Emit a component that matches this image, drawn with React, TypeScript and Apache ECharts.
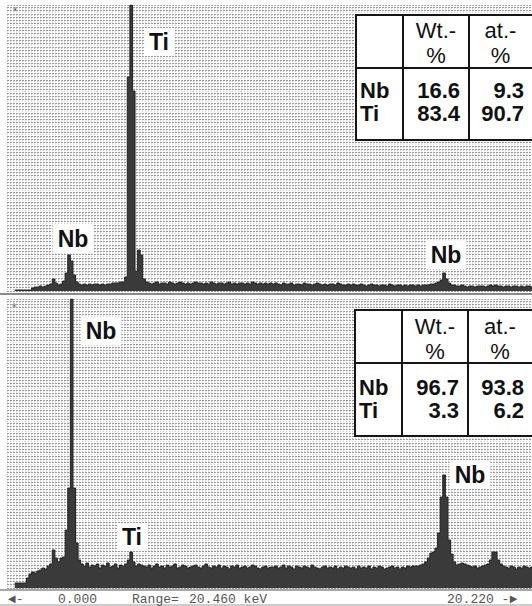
import React, { useEffect, useRef } from "react";
import * as echarts from "echarts";

// EDS spectra, 0.1 keV per channel, counts expressed in plot units
const CHANNEL_KEV = 0.1;

// Panel 1: Ti-rich phase
const SPECTRUM_TI_RICH = [
  1, 1, 1, 1, 1, 1, 1,
  3, 4, 4, 5, 4, 5, 6, 7,
  12, 8, 6, 7, 10, 18, 36, 30, 16, 9,
  7, 6, 7, 6, 7, 6, 7, 7, 6, 7, 6, 7, 7, 8, 8,
  8, 9, 9, 14,
  214, 286, 200, 20, 41, 36, 12, 9,
  8, 7, 8, 9, 7, 8, 8, 7, 9, 8,
  7, 8, 9, 8, 7, 8, 7, 8, 9, 8,
  8, 7, 8, 7, 9, 8, 7, 8, 8, 7,
  8, 9, 7, 8, 7, 8, 8, 7, 8, 7,
  9, 8, 7, 8, 7, 8, 7, 8,
  7, 8, 7, 6, 8, 7, 7, 8, 6, 7,
  7, 6, 8, 7, 7, 6, 7, 8, 7, 6,
  7, 6, 7, 7, 6, 8, 7, 6, 6, 7,
  6, 7, 6, 6, 7, 6, 5, 6, 7, 6,
  6, 5, 6, 6, 5, 7, 6, 5, 6, 6,
  5, 6, 5, 6, 6, 5, 6, 5, 6, 6,
  6, 7, 7, 8, 9, 11, 18, 12, 8, 6, 6,
  5, 5, 6, 5, 4, 5, 5, 4, 5, 5,
  5, 4, 5, 6, 5, 6, 5, 5, 4, 5,
  5, 4, 5, 5, 4, 5, 4, 5, 5, 4,
];

// Panel 2: Nb-rich phase
const SPECTRUM_NB_RICH = [
  5, 5, 5, 5, 5,
  10, 14, 16, 15, 17, 18, 20, 19, 22, 24,
  38, 30, 26, 30, 31, 58, 100, 289, 100, 45, 28,
  24, 22, 25, 21, 23, 22, 24, 20, 23, 22, 25, 21, 22, 24, 20, 23, 22, 24,
  28, 36, 26, 22, 24, 23,
  22, 21, 23, 20, 22, 24, 21, 22, 20, 23,
  21, 22, 24, 20, 21, 23, 22, 20, 21, 22,
  23, 21, 20, 22, 24, 21, 20, 22, 21, 23,
  20, 22, 21, 19, 22, 21, 23, 20, 21, 22,
  20, 21, 23, 22, 20, 19, 21, 22, 20, 21,
  21, 22, 20, 21, 23, 20, 22, 21, 19, 22,
  21, 20, 22, 21, 20, 23, 21, 20, 19, 21,
  22, 20, 21, 20, 22, 19, 21, 20, 22, 21,
  20, 21, 19, 22, 20, 21, 20, 22, 19, 21,
  20, 22, 21, 19, 20, 21, 22, 20, 21, 19,
  21, 20, 22, 21, 22, 22, 22, 23, 24, 26,
  30, 35, 36, 40, 55, 91, 113, 91, 48, 34, 26,
  23, 24, 25, 24, 23, 22, 21, 22, 20, 21, 22, 23, 24,
  28, 36, 36, 28, 24,
  22, 21, 20, 22, 21, 19, 21, 20, 22, 21, 20, 21,
];

// Quantification tables
const TABLE_HEADERS = ["Wt.-", "at.-"];
const TABLE_UNITS = ["%", "%"];
const ELEMENTS = ["Nb", "Ti"];
const TI_RICH_WT = ["16.6", "83.4"];
const TI_RICH_AT = ["9.3", "90.7"];
const NB_RICH_WT = ["96.7", "3.3"];
const NB_RICH_AT = ["93.8", "6.2"];

// Scale readout
const SCALE_START = "0.000";
const SCALE_RANGE = "Range=";
const SCALE_RANGE_VALUE = "20.460 keV";
const SCALE_END = "20.220";

const toSeriesData = (counts: number[]) =>
  counts.map((c, i) => [Number((i * CHANNEL_KEV).toFixed(1)), c]);

const LABEL_FONT = "Liberation Sans, Arial, sans-serif";

function peakLabel(text: string, x: number, y: number) {
  return {
    type: "text",
    x,
    y,
    z: 20,
    style: {
      text,
      fontFamily: LABEL_FONT,
      fontSize: 23,
      fontWeight: "bold",
      fill: "#111",
      align: "center",
      verticalAlign: "middle",
      backgroundColor: "#ffffff",
      padding: [3, 5, 2, 5],
    },
  };
}

// Bordered two-column table
function tableGraphics(
  top: number,
  headerBottom: number,
  bottom: number,
  left: number,
  col1: number,
  col2: number,
  headY: number[],
  rowY: number[],
  wt: string[],
  at: string[]
) {
  const right = 545;
  const stroke = { stroke: "#151515", lineWidth: 2 };
  const els: any[] = [
    {
      type: "rect",
      z: 15,
      shape: { x: left, y: top, width: right - left, height: bottom - top },
      style: { fill: "#ffffff", ...stroke },
    },
    { type: "line", z: 16, shape: { x1: col1, y1: top, x2: col1, y2: bottom }, style: stroke },
    { type: "line", z: 16, shape: { x1: col2, y1: top, x2: col2, y2: bottom }, style: stroke },
    { type: "line", z: 16, shape: { x1: left, y1: headerBottom, x2: right, y2: headerBottom }, style: stroke },
  ];
  const colCenters = [(col1 + col2) / 2, (col2 + 532) / 2];
  const plain = { fontFamily: LABEL_FONT, fontSize: 22, fill: "#111", align: "center", verticalAlign: "middle" };
  TABLE_HEADERS.forEach((h, k) => {
    els.push({ type: "text", z: 17, x: colCenters[k], y: headY[0], style: { ...plain, text: h } });
    els.push({ type: "text", z: 17, x: colCenters[k], y: headY[1], style: { ...plain, text: TABLE_UNITS[k] } });
  });
  const bold = { fontFamily: LABEL_FONT, fontSize: 22, fontWeight: "bold", fill: "#111", verticalAlign: "middle" };
  ELEMENTS.forEach((el, r) => {
    els.push({ type: "text", z: 17, x: left + 4, y: rowY[r], style: { ...bold, text: el, align: "left" } });
    els.push({ type: "text", z: 17, x: col2 - 9, y: rowY[r], style: { ...bold, text: wt[r], align: "right" } });
    els.push({ type: "text", z: 17, x: 524, y: rowY[r], style: { ...bold, text: at[r], align: "right" } });
  });
  return els;
}

const texture = {
  show: true,
  lineStyle: { color: "#9a9a9a", width: 1, type: [2, 1] as any },
};
const textureV = {
  show: true,
  lineStyle: { color: "#c4c4c4", width: 1, type: [1, 2.3] as any },
};
const hiddenAxisParts = {
  axisLine: { show: false },
  axisTick: { show: false },
  axisLabel: { show: false },
};

export default function App() {
  const ref = useRef<HTMLDivElement>(null);

  useEffect(() => {
    if (!ref.current) return;
    const chart = echarts.init(ref.current, undefined, { renderer: "svg" });

    const mono = { fontFamily: "Liberation Mono, DejaVu Sans Mono, monospace", fontSize: 13, fill: "#555", verticalAlign: "middle" };

    chart.setOption({
      animation: false,
      backgroundColor: "#ffffff",
      grid: [
        { left: 7, right: 0, top: 5, height: 286 },
        { left: 7, right: 0, top: 299, height: 289 },
      ],
      xAxis: [
        { type: "value", gridIndex: 0, min: -0.3, max: 20.0, splitLine: { show: false }, ...hiddenAxisParts },
        { type: "value", gridIndex: 0, min: 0, max: 525, interval: 3, position: "top", splitLine: textureV, ...hiddenAxisParts },
        { type: "value", gridIndex: 1, min: -0.3, max: 20.0, splitLine: { show: false }, ...hiddenAxisParts },
        { type: "value", gridIndex: 1, min: 0, max: 525, interval: 3, position: "top", splitLine: textureV, ...hiddenAxisParts },
      ],
      yAxis: [
        { type: "value", gridIndex: 0, min: 0, max: 286, interval: 3.3, splitLine: texture, ...hiddenAxisParts },
        { type: "value", gridIndex: 1, min: 0, max: 289, interval: 3.3, splitLine: texture, ...hiddenAxisParts },
      ],
      series: [
        {
          name: "Ti-rich",
          type: "line",
          xAxisIndex: 0,
          yAxisIndex: 0,
          step: "middle",
          symbol: "none",
          data: toSeriesData(SPECTRUM_TI_RICH),
          lineStyle: { color: "#222", width: 1 },
          areaStyle: { color: "#3a3a3a", opacity: 1 },
          z: 5,
        },
        {
          name: "Nb-rich",
          type: "line",
          xAxisIndex: 2,
          yAxisIndex: 1,
          step: "middle",
          symbol: "none",
          data: toSeriesData(SPECTRUM_NB_RICH),
          lineStyle: { color: "#222", width: 1 },
          areaStyle: { color: "#3a3a3a", opacity: 1 },
          z: 5,
        },
      ],
      graphic: [
        { type: "line", shape: { x1: 0, y1: 294, x2: 532, y2: 294 }, style: { stroke: "#8a8a8a", lineWidth: 2 } },
        { type: "line", shape: { x1: 0, y1: 590, x2: 532, y2: 590 }, style: { stroke: "#8a8a8a", lineWidth: 1.5 } },
        { type: "line", shape: { x1: 0, y1: 605, x2: 532, y2: 605 }, style: { stroke: "#9a9a9a", lineWidth: 1 } },
        { type: "text", x: 15, y: 12, style: { text: "*", fontSize: 12, fill: "#555", align: "center", verticalAlign: "middle" } },
        { type: "text", x: 14, y: 308, style: { text: "*", fontSize: 12, fill: "#555", align: "center", verticalAlign: "middle" } },

        peakLabel("Ti", 159, 42),
        peakLabel("Nb", 73, 239),
        peakLabel("Nb", 446, 255),
        peakLabel("Nb", 101, 331),
        peakLabel("Ti", 132, 537),
        peakLabel("Nb", 470, 475),

        ...tableGraphics(15, 68, 140, 356, 403, 469, [30, 55], [90.5, 113.5], TI_RICH_WT, TI_RICH_AT),
        ...tableGraphics(310, 363, 436, 355, 402, 468, [326, 351], [387, 410], NB_RICH_WT, NB_RICH_AT),

        { type: "text", x: 8, y: 599, style: { ...mono, text: "◄-" } },
        { type: "text", x: 58, y: 599, style: { ...mono, text: SCALE_START } },
        { type: "text", x: 132, y: 599, style: { ...mono, text: SCALE_RANGE } },
        { type: "text", x: 189, y: 599, style: { ...mono, text: SCALE_RANGE_VALUE } },
        { type: "text", x: 447, y: 599, style: { ...mono, text: SCALE_END + " -►" } },
      ],
    });

    return () => chart.dispose();
  }, []);

  return (
    <div
      ref={ref}
      style={{ position: "fixed", left: 0, top: 0, width: 532, height: 606, background: "#fff" }}
    />
  );
}
